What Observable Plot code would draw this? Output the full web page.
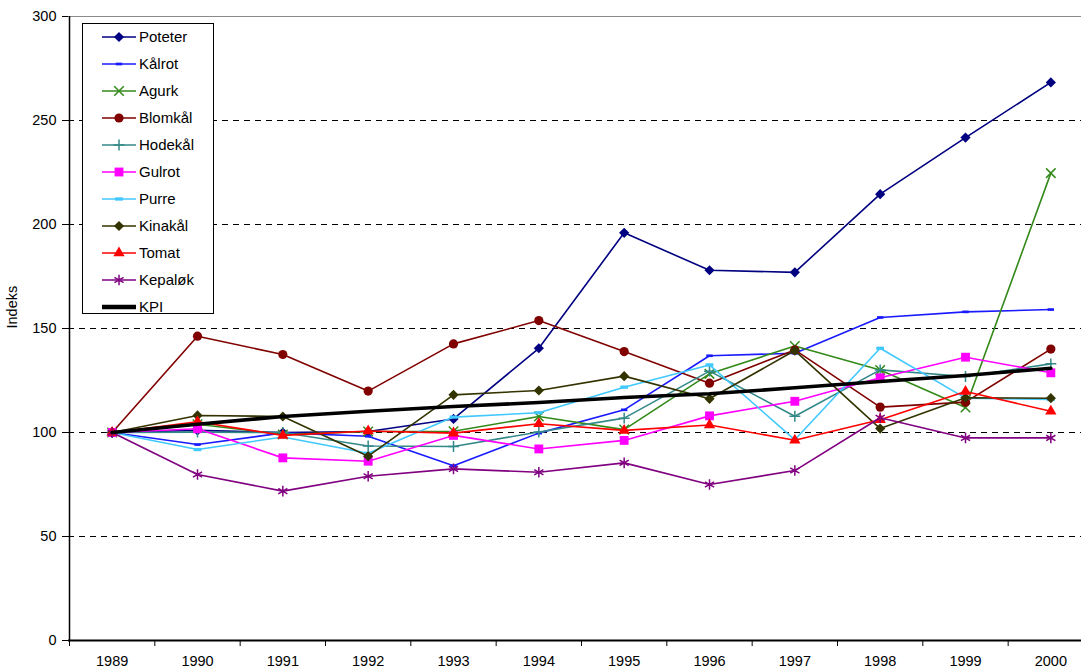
<!DOCTYPE html>
<html><head><meta charset="utf-8">
<script src="https://cdn.jsdelivr.net/npm/d3@7"></script>
<script src="https://cdn.jsdelivr.net/npm/@observablehq/plot@0.6"></script>
<style>
body{margin:0;background:#fff;}
#chart{position:relative;width:1081px;height:670px;overflow:hidden;}
#chart g[aria-label$="tick label"]{font-size:14.5px !important;}
</style>
</head><body><div id="chart"></div>
<script>
// ---- data ----
const years = [1989,1990,1991,1992,1993,1994,1995,1996,1997,1998,1999,2000];
const poteter = [100,101,100,100.5,106.5,140.5,196,178,177,214.6,241.8,268.3];
const kalrot  = [100,94.2,99.8,98.2,84,99.7,110.9,136.9,138.1,155.3,158,159.1];
const agurk   = [100,104,99,100.5,100.6,107.7,101.4,128.2,141.6,130,112,224.7];
const blomkal = [100,146.3,137.5,119.9,142.6,153.8,138.9,123.7,139.7,112.2,114.6,140.1];
const hodekal = [100,100.2,100,93.5,93.3,100.2,106.9,129.5,107.8,130.1,126.9,133];
const gulrot  = [100,101.8,87.8,86.2,98.6,92.1,96.2,108,115,126.3,136.2,128.7];
const purre   = [100,91.8,97.8,90,107.4,109.5,121.8,132.5,96.5,140.5,116.5,115.9];
const kinakal = [100,108.2,107.7,88.6,118.1,120.2,127.1,116.2,139.4,101.9,116.7,116.5];
const tomat   = [100,105.2,98.6,100.7,99.7,104.2,101,103.6,96.3,106.1,119.7,110.2];
const kepalok = [100,79.8,71.8,79,82.5,80.9,85.4,75,81.7,107.1,97.4,97.4];
const kpi     = [100,104,107.7,110.2,112.5,114.4,116.8,118.6,121.5,124.5,127.4,130.9];

const seriesNames  = ["Poteter","Kålrot","Agurk","Blomkål","Hodekål","Gulrot","Purre","Kinakål","Tomat","Kepaløk","KPI"];
const seriesValues = [poteter,kalrot,agurk,blomkal,hodekal,gulrot,purre,kinakal,tomat,kepalok,kpi];
const yTicks = [0,50,100,150,200,250,300];
const gridValues = [50,100,150,200,250];

// ---- styles ----
const dash = {draw(ctx, size){ const w = Math.sqrt(size)*1.0, h = w*0.42; ctx.rect(-w/2,-h/2,w,h); }};
const seriesStyle = [
  {color:"#000080", symbol:d3.symbolDiamond2, r:4.6, filled:true},
  {color:"#1a1aff", symbol:dash, r:3.6, filled:true},
  {color:"#338a1a", symbol:d3.symbolTimes, r:4.4, filled:false},
  {color:"#800000", symbol:d3.symbolCircle, r:4.6, filled:true},
  {color:"#338888", symbol:d3.symbolPlus, r:3.6, filled:false},
  {color:"#ff00ff", symbol:d3.symbolSquare, r:5.0, filled:true},
  {color:"#40c8ff", symbol:dash, r:4.4, filled:true},
  {color:"#333300", symbol:d3.symbolDiamond2, r:4.6, filled:true},
  {color:"#ff0000", symbol:d3.symbolTriangle, r:4.2, filled:true},
  {color:"#800080", symbol:d3.symbolAsterisk, r:5.0, filled:false},
  {color:"#000000", symbol:null, r:0, filled:false, width:3.6}
];

const data = [];
seriesNames.forEach((n,i)=>seriesValues[i].forEach((v,j)=>data.push({series:n, year:years[j], value:v})));

const marks = [
  Plot.ruleY(gridValues, {stroke:"#000", strokeDasharray:"6,5", strokeWidth:1}),
  Plot.ruleY([300], {stroke:"#8a8a8a", strokeWidth:1}),
  Plot.axisY({ticks:yTicks, tickSize:6, tickPadding:6, tickFormat:d=>String(d), label:null}),
  Plot.axisX({ticks:d3.range(1988.5, 2001, 1), tickSize:6, tickFormat:()=>"", label:null}),
  Plot.axisX({ticks:years, tickSize:0, tickPadding:15, tickFormat:d=>String(d), label:null}),
  Plot.text(["Indeks"], {frameAnchor:"left", dx:-56, rotate:-90, fontSize:14.5, text:d=>d})
];
seriesNames.forEach((n,i)=>{
  const s = seriesStyle[i];
  const d = data.filter(e=>e.series===n);
  marks.push(Plot.line(d, {x:"year", y:"value", stroke:s.color, strokeWidth:s.width||1.6}));
  if (s.symbol) {
    marks.push(Plot.dot(d, {x:"year", y:"value", symbol:s.symbol, r:s.r,
      fill: s.filled ? s.color : "none", stroke: s.filled ? "none" : s.color, strokeWidth:1.5}));
  }
});
marks.push(Plot.ruleY([0], {stroke:"#000", strokeWidth:2}));
marks.push(Plot.ruleX([1988.5], {stroke:"#000", strokeWidth:1.5}));

const svg = Plot.plot({
  width:1081, height:670,
  marginLeft:68, marginTop:16, marginBottom:30, marginRight:0,
  x:{domain:[1988.5,2000.5], range:[69,1093]},
  y:{domain:[0,300], range:[640,16]},
  style:{fontFamily:"'Liberation Sans', Arial, sans-serif", fontSize:"14px", color:"#000", background:"#fff"},
  marks
});
document.getElementById("chart").appendChild(svg);

// ---- legend ----
const lg = d3.select(svg).append("g")
  .attr("font-family","'Liberation Sans', Arial, sans-serif").attr("font-size",15).attr("text-anchor","start");
lg.append("rect").attr("x",82.5).attr("y",23.5).attr("width",131).attr("height",290)
  .attr("fill","#fff").attr("stroke","#000").attr("stroke-width",1);
seriesNames.forEach((n,i)=>{
  const s = seriesStyle[i];
  const y = 37 + i*27;
  lg.append("line").attr("x1",102).attr("x2",136).attr("y1",y).attr("y2",y)
    .attr("stroke",s.color).attr("stroke-width",s.width?4.5:1.6);
  if (s.symbol) {
    lg.append("path").attr("transform",`translate(119,${y})`)
      .attr("d", d3.symbol(s.symbol, s.r*s.r*Math.PI)())
      .attr("fill", s.filled ? s.color : "none").attr("stroke", s.filled ? "none" : s.color).attr("stroke-width",1.5);
  }
  lg.append("text").attr("x",139).attr("y",y).attr("dy","0.36em").attr("text-anchor","start")
    .style("font-size","15px").attr("fill","#000").text(n);
});
</script>
</body></html>
